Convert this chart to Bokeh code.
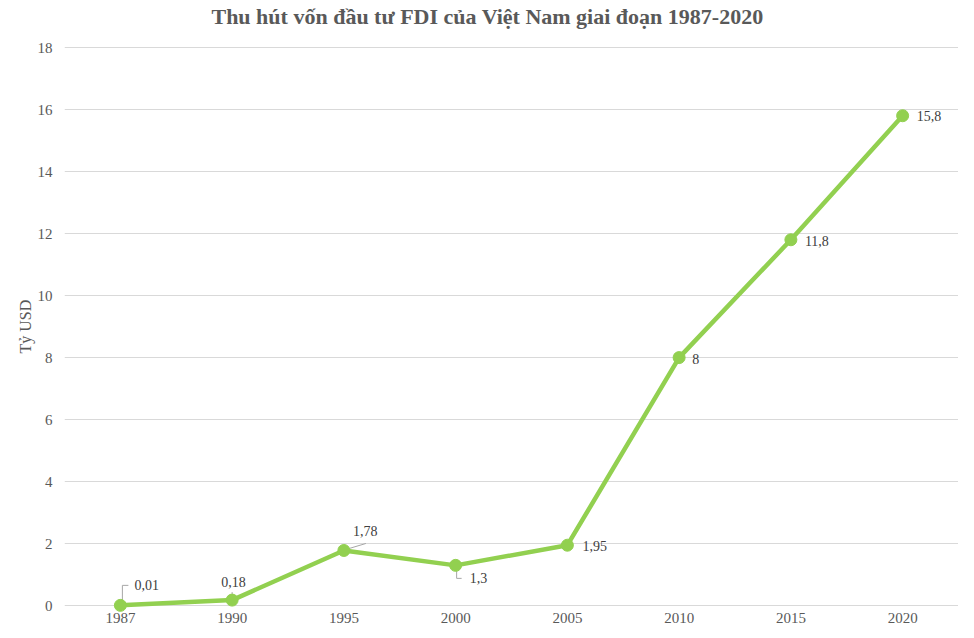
from bokeh.plotting import figure
from bokeh.models import Range1d, FixedTicker, ColumnDataSource, Title
from bokeh.core.properties import value
from bokeh.embed import file_html
from bokeh.resources import INLINE

# ---- data ----
years = ["1987", "1990", "1995", "2000", "2005", "2010", "2015", "2020"]
fdi = [0.01, 0.18, 1.78, 1.3, 1.95, 8, 11.8, 15.8]
fdi_labels = ["0,01", "0,18", "1,78", "1,3", "1,95", "8", "11,8", "15,8"]
y_ticks = [0, 2, 4, 6, 8, 10, 12, 14, 16, 18]

TITLE = "Thu hút vốn đầu tư FDI của Việt Nam giai đoạn 1987-2020"
Y_LABEL = "Tỷ USD"

# ---- style / layout ----
FONT = "Liberation Serif"
GREEN = "#92D050"
GRID = "#D9D9D9"
TXT = "#595959"
LEADER = "#A6A6A6"

W, H = 958, 630
LEFT, BOTTOM = 64, 18
FRAME_W, FRAME_H = W - LEFT, H - BOTTOM
TOP_GAP = 47                      # pixels between frame top and the 18 gridline
X0, X1 = -0.5, len(years) - 0.5
Y0 = -0.22
ppx = FRAME_W / (X1 - X0)
ppy = (FRAME_H - TOP_GAP) / (18 - Y0)
Y1 = 18 + TOP_GAP / ppy

xs = list(range(len(years)))

p = figure(width=W, height=H, output_backend="svg", toolbar_location=None,
           x_range=Range1d(X0, X1), y_range=Range1d(Y0, Y1),
           min_border_left=LEFT, min_border_right=0, min_border_top=0,
           min_border_bottom=BOTTOM, tools="")
p.outline_line_color = None
p.background_fill_color = "white"
p.border_fill_color = "white"

# axes
p.xaxis.ticker = FixedTicker(ticks=xs)
p.xaxis.major_label_overrides = {i: y for i, y in enumerate(years)}
p.yaxis.ticker = FixedTicker(ticks=y_ticks)
for ax in (p.xaxis[0], p.yaxis[0]):
    ax.axis_line_color = None
    ax.major_tick_line_color = None
    ax.minor_tick_line_color = None
    ax.major_tick_out = 0
    ax.major_tick_in = 0
    ax.major_label_text_font = FONT
    ax.major_label_text_font_size = "15px"
    ax.major_label_text_color = TXT
p.xaxis.major_label_standoff = 0
p.yaxis.major_label_standoff = 12

# y axis title (as a left-side Title so it can be shifted along the axis)
ytitle = Title(text=Y_LABEL, align="left", offset=259, standoff=2,
               text_font=FONT, text_font_size="16px",
               text_font_style="normal", text_color=TXT)
p.add_layout(ytitle, "left")

p.xgrid.grid_line_color = None
p.ygrid.grid_line_color = GRID
p.ygrid.grid_line_width = 1

# chart title, placed in the space above the 18 gridline
p.text([X0 + (487 - LEFT) / ppx], [18 + (TOP_GAP - 16) / ppy], text=[TITLE],
       text_font=value(FONT), text_font_size="22px", text_font_style="bold",
       text_color=TXT, text_align="center", text_baseline="middle")

# leader lines (pixel offsets from each point, converted through the scales)
leader_px = {
    0: [(2, 4), (2, 20), (8, 20)],
    1: [(0, 3), (0, 8)],
    2: [(2, 1), (22, 7)],
    3: [(1, -2), (1, -13), (6, -13)],
}
for i, pts in leader_px.items():
    p.line([xs[i] + dx / ppx for dx, dy in pts],
           [fdi[i] + dy / ppy for dx, dy in pts],
           line_color=LEADER, line_width=1)

src = ColumnDataSource(dict(x=xs, y=fdi, lab=fdi_labels,
                            dx=[14, -11, 9, 14, 15, 13, 14, 14],
                            dy=[-20, -18, -19, 13, 1, 1, 1, 0]))

p.line("x", "y", source=src, line_color=GREEN, line_width=4.5,
       line_join="round")
p.scatter("x", "y", source=src, size=12, fill_color=GREEN, line_color=GREEN)

p.text("x", "y", text="lab", source=src, x_offset="dx", y_offset="dy",
       text_font=value(FONT), text_font_size="14px", text_color="#404040",
       text_align="left", text_baseline="middle")

open("out.html", "w").write(file_html(p, INLINE))
